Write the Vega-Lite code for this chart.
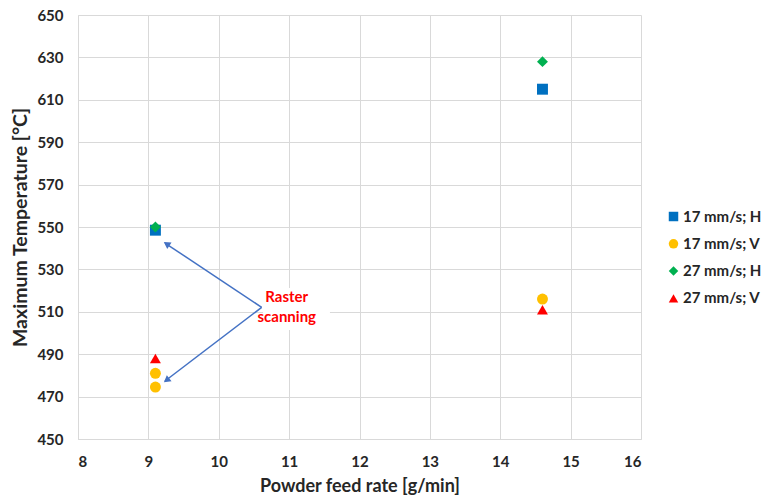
{
  "$schema": "https://vega.github.io/schema/vega-lite/v6.json",
  "width": 563,
  "height": 424,
  "autosize": {"type": "none"},
  "padding": {"left": 78, "top": 15, "right": 124, "bottom": 58},
  "background": "white",
  "config": {
    "view": {"stroke": null},
    "font": "Lato",
    "axis": {
      "gridColor": "#D9D9D9",
      "gridWidth": 1,
      "domainColor": "#D9D9D9",
      "ticks": false,
      "labelFont": "Lato",
      "labelFontWeight": "bold",
      "labelFontSize": 15,
      "labelColor": "#262626",
      "titleFont": "Lato",
      "titleFontWeight": "bold",
      "titleColor": "#262626"
    }
  },
  "datasets": {
    "measurements": [
      {"feed": 9.1, "temp": 548.5, "series": "17 mm/s; H"},
      {"feed": 14.6, "temp": 615, "series": "17 mm/s; H"},
      {"feed": 9.1, "temp": 481, "series": "17 mm/s; V"},
      {"feed": 9.1, "temp": 474.5, "series": "17 mm/s; V"},
      {"feed": 14.6, "temp": 516, "series": "17 mm/s; V"},
      {"feed": 9.1, "temp": 550, "series": "27 mm/s; H"},
      {"feed": 14.6, "temp": 628, "series": "27 mm/s; H"},
      {"feed": 9.1, "temp": 488, "series": "27 mm/s; V"},
      {"feed": 14.6, "temp": 511, "series": "27 mm/s; V"}
    ],
    "arrows": [
      {"end": "upper", "x0": 10.61, "y0": 512.1, "x1": 9.236, "y1": 542.45, "hx": 9.259, "hy": 542.0},
      {"end": "lower", "x0": 10.61, "y0": 512.1, "x1": 9.236, "y1": 477.35, "hx": 9.258, "hy": 477.7}
    ],
    "labelBox": [
      {"xa": 10.63, "xb": 11.58, "ya": 501.4, "yb": 521.2}
    ],
    "labelText": [
      {"x": 10.966, "y": 517.1, "text": "Raster"},
      {"x": 10.966, "y": 507.4, "text": "scanning"}
    ]
  },
  "layer": [
    {
      "data": {"name": "measurements"},
      "mark": {"type": "point", "filled": true, "opacity": 1, "size": 120},
      "encoding": {
        "x": {
          "field": "feed", "type": "quantitative",
          "scale": {"domain": [8, 16], "nice": false, "zero": false},
          "axis": {"values": [8, 9, 10, 11, 12, 13, 14, 15, 16], "format": "d", "title": "Powder feed rate [g/min]", "titleFontSize": 18, "labelPadding": 15, "titlePadding": 8, "domain": true}
        },
        "y": {
          "field": "temp", "type": "quantitative",
          "scale": {"domain": [450, 650], "nice": false, "zero": false},
          "axis": {"values": [450, 470, 490, 510, 530, 550, 570, 590, 610, 630, 650], "title": "Maximum Temperature [°C]", "titleFontSize": 19.5, "labelPadding": 15, "titlePadding": 6, "domain": true}
        },
        "color": {
          "field": "series", "type": "nominal",
          "scale": {
            "domain": ["17 mm/s; H", "17 mm/s; V", "27 mm/s; H", "27 mm/s; V"],
            "range": ["#0070C0", "#FFC000", "#00B050", "#FF0000"]
          },
          "legend": {
            "title": null,
            "orient": "none",
            "legendX": 588,
            "legendY": 194,
            "padding": 0,
            "labelFont": "Lato",
            "labelFontWeight": "bold",
            "labelFontSize": 15,
            "labelColor": "#262626",
            "symbolSize": 90,
            "rowPadding": 11.3,
            "labelOffset": 2,
            "symbolStrokeWidth": 0
          }
        },
        "shape": {
          "field": "series", "type": "nominal",
          "scale": {
            "domain": ["17 mm/s; H", "17 mm/s; V", "27 mm/s; H", "27 mm/s; V"],
            "range": ["square", "circle", "diamond", "triangle-up"]
          },
          "legend": null
        }
      }
    },
    {
      "data": {"name": "labelBox"},
      "mark": {"type": "rect", "fill": "white"},
      "encoding": {
        "x": {"field": "xa", "type": "quantitative"},
        "x2": {"field": "xb"},
        "y": {"field": "ya", "type": "quantitative"},
        "y2": {"field": "yb"}
      }
    },
    {
      "data": {"name": "arrows"},
      "mark": {"type": "rule", "color": "#4472C4", "strokeWidth": 1.5},
      "encoding": {
        "x": {"field": "x0", "type": "quantitative"},
        "y": {"field": "y0", "type": "quantitative"},
        "x2": {"field": "x1"},
        "y2": {"field": "y1"}
      }
    },
    {
      "data": {"name": "arrows"},
      "mark": {"type": "point", "shape": "triangle-up", "filled": true, "color": "#4472C4", "opacity": 1, "size": 60},
      "encoding": {
        "x": {"field": "hx", "type": "quantitative"},
        "y": {"field": "hy", "type": "quantitative"},
        "angle": {
          "field": "end", "type": "nominal",
          "scale": {"domain": ["upper", "lower"], "range": [303.7, 232.5]},
          "legend": null
        }
      }
    },
    {
      "data": {"name": "labelText"},
      "mark": {"type": "text", "color": "#FF0000", "font": "Lato", "fontWeight": "bold", "fontSize": 15, "align": "center", "baseline": "middle"},
      "encoding": {
        "x": {"field": "x", "type": "quantitative"},
        "y": {"field": "y", "type": "quantitative"},
        "text": {"field": "text", "type": "nominal"}
      }
    }
  ]
}
